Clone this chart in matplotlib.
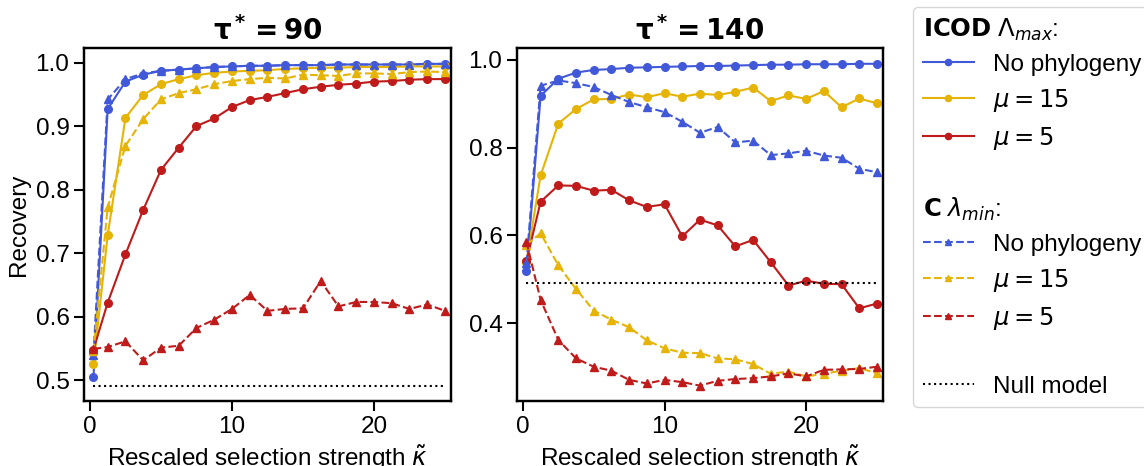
import numpy as np
import matplotlib
matplotlib.use("Agg")
from matplotlib import pyplot as plt
from matplotlib.lines import Line2D

plt.rcParams['font.family'] = ['Liberation Sans', 'DejaVu Sans']

# rescaled selection strength (x values, same for every curve)
kappa = [0.25, 1.25, 2.5, 3.75, 5.0, 6.25, 7.5, 8.75, 10.0, 11.25, 12.5,
         13.75, 15.0, 16.25, 17.5, 18.75, 20.0, 21.25, 22.5, 23.75, 25.0]

null_model = 0.491

# tau* = 90
icod_nophylo_90 = [0.505, 0.927, 0.970, 0.981, 0.987, 0.989, 0.991, 0.993, 0.994, 0.995, 0.995,
                   0.996, 0.996, 0.996, 0.997, 0.997, 0.997, 0.997, 0.997, 0.998, 0.998]
icod_mu15_90 = [0.525, 0.728, 0.913, 0.949, 0.966, 0.974, 0.980, 0.984, 0.986, 0.987, 0.988,
                0.990, 0.991, 0.992, 0.992, 0.993, 0.993, 0.993, 0.994, 0.994, 0.994]
icod_mu5_90 = [0.548, 0.622, 0.698, 0.768, 0.831, 0.866, 0.900, 0.912, 0.930, 0.941, 0.946,
               0.952, 0.958, 0.962, 0.965, 0.967, 0.970, 0.971, 0.973, 0.974, 0.974]
c_nophylo_90 = [0.540, 0.942, 0.974, 0.983, 0.987, 0.989, 0.991, 0.993, 0.994, 0.995, 0.995,
                0.996, 0.996, 0.996, 0.997, 0.997, 0.997, 0.997, 0.997, 0.998, 0.998]
c_mu15_90 = [0.545, 0.772, 0.869, 0.911, 0.942, 0.952, 0.958, 0.966, 0.971, 0.974, 0.976,
             0.975, 0.981, 0.980, 0.979, 0.983, 0.983, 0.982, 0.985, 0.986, 0.985]
c_mu5_90 = [0.549, 0.552, 0.561, 0.531, 0.551, 0.554, 0.582, 0.595, 0.612, 0.634, 0.609,
            0.612, 0.613, 0.656, 0.616, 0.623, 0.623, 0.621, 0.612, 0.619, 0.609]

# tau* = 140
icod_nophylo_140 = [0.519, 0.918, 0.957, 0.971, 0.977, 0.979, 0.982, 0.983, 0.984, 0.985, 0.986,
                    0.986, 0.987, 0.988, 0.989, 0.989, 0.990, 0.990, 0.990, 0.991, 0.991]
icod_mu15_140 = [0.540, 0.737, 0.855, 0.888, 0.910, 0.911, 0.921, 0.915, 0.924, 0.916, 0.923,
                 0.920, 0.927, 0.937, 0.906, 0.919, 0.911, 0.929, 0.892, 0.912, 0.901]
icod_mu5_140 = [0.542, 0.677, 0.714, 0.713, 0.702, 0.704, 0.680, 0.665, 0.671, 0.598, 0.636,
                0.623, 0.575, 0.590, 0.539, 0.486, 0.497, 0.490, 0.489, 0.434, 0.445]
c_nophylo_140 = [0.537, 0.941, 0.953, 0.947, 0.938, 0.920, 0.904, 0.892, 0.881, 0.859, 0.834,
                 0.847, 0.812, 0.816, 0.783, 0.787, 0.793, 0.782, 0.777, 0.752, 0.744]
c_mu15_140 = [0.579, 0.605, 0.532, 0.478, 0.429, 0.408, 0.391, 0.361, 0.343, 0.333, 0.332,
              0.320, 0.318, 0.307, 0.285, 0.290, 0.279, 0.285, 0.292, 0.298, 0.286]
c_mu5_140 = [0.585, 0.453, 0.362, 0.320, 0.301, 0.292, 0.271, 0.263, 0.271, 0.266, 0.258,
             0.269, 0.273, 0.275, 0.279, 0.286, 0.279, 0.294, 0.295, 0.296, 0.301]

blue = "#4159d9"
yellow = "#e5b407"
red = "#bf1b1b"

panels = [
    (r"$\mathbf{\tau^*=90}$",
     [icod_nophylo_90, icod_mu15_90, icod_mu5_90],
     [c_nophylo_90, c_mu15_90, c_mu5_90],
     (0.467, 1.023), [0.5, 0.6, 0.7, 0.8, 0.9, 1.0]),
    (r"$\mathbf{\tau^*=140}$",
     [icod_nophylo_140, icod_mu15_140, icod_mu5_140],
     [c_nophylo_140, c_mu15_140, c_mu5_140],
     (0.223, 1.027), [0.4, 0.6, 0.8, 1.0]),
]

fig = plt.figure(figsize=(11.44, 4.66), dpi=100)
ax_left = fig.add_axes([0.0734, 0.1395, 0.3208, 0.7575])
ax_right = fig.add_axes([0.4519, 0.1395, 0.3199, 0.7575])

for ax, (title, icod, cmin, ylim, yticks) in zip([ax_left, ax_right], panels):
    for vals, col in zip(icod, [blue, yellow, red]):
        ax.plot(kappa, vals, "-", color=col, marker="o", lw=1.5, ms=5.5)
    for vals, col in zip(cmin, [blue, yellow, red]):
        ax.plot(kappa, vals, "--", color=col, marker="^", lw=1.5, ms=5.5)
    ax.plot(kappa, [null_model] * len(kappa), ":", color="black", lw=1.5)

    ax.set_xlim(-0.42, 25.42)
    ax.set_ylim(*ylim)
    ax.set_xticks([0, 10, 20])
    ax.set_yticks(yticks)
    ax.tick_params(length=7, width=1.5, labelsize=17.5)
    for sp in ax.spines.values():
        sp.set_linewidth(1.75)
    ax.set_title(title, fontsize=20)
    ax.set_xlabel(r"Rescaled selection strength $\tilde{\kappa}$", fontsize=17.5)

ax_left.set_ylabel("Recovery", fontsize=17.5)

empty = Line2D([], [], linestyle="none")
handles = [
    empty,
    Line2D([], [], color=blue, marker="o", ls="-", lw=1.5, ms=4.5),
    Line2D([], [], color=yellow, marker="o", ls="-", lw=1.5, ms=4.5),
    Line2D([], [], color=red, marker="o", ls="-", lw=1.5, ms=4.5),
    empty,
    empty,
    Line2D([], [], color=blue, marker="^", ls="--", lw=1.5, ms=4.5),
    Line2D([], [], color=yellow, marker="^", ls="--", lw=1.5, ms=4.5),
    Line2D([], [], color=red, marker="^", ls="--", lw=1.5, ms=4.5),
    empty,
    Line2D([], [], color="black", ls=":", lw=1.5),
]
labels = [
    r"$\bf{ICOD}$ $\Lambda_{max}$:",
    "No phylogeny", r"$\mu = 15$", r"$\mu = 5$",
    " ",
    r"$\bf{C}$ $\lambda_{min}$:",
    "No phylogeny", r"$\mu = 15$", r"$\mu = 5$",
    " ",
    "Null model",
]
leg = fig.legend(handles, labels, loc="upper left", bbox_to_anchor=(913 / 1144, 1 - 7 / 466),
                 borderaxespad=0, fontsize=17.5, handlelength=2.1, handletextpad=0.8,
                 labelspacing=0.45)

# section headers start where the line samples start
rows = leg.get_children()[0].get_children()[1].get_children()[0].get_children()
for i in (0, 5):
    rows[i].get_children()[0].width = 0
    rows[i].sep = 0

fig.savefig("out.png", dpi=100)
